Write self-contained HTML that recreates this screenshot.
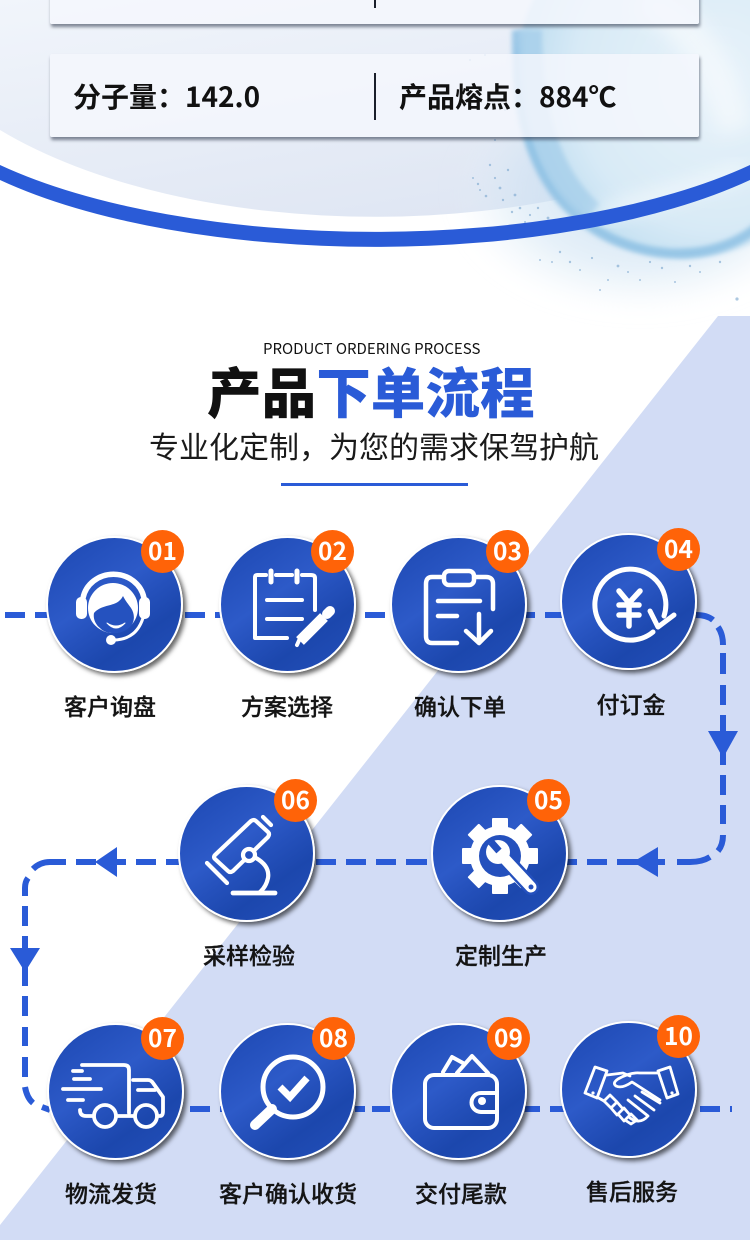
<!DOCTYPE html>
<html lang="zh"><head><meta charset="utf-8"><title>产品下单流程</title>
<style>
html,body{margin:0;padding:0;background:#fff}
#p{position:relative;width:750px;height:1240px;overflow:hidden;background:#fff;font-family:"Noto Sans CJK SC","Liberation Sans",sans-serif;color:#111}
svg{position:absolute;left:0;top:0}
.card{position:absolute;left:50px;width:649px;background:rgba(244,247,253,.84);box-shadow:1px 3px 3px rgba(50,60,80,.6);border-radius:2px}
.t{position:absolute;white-space:nowrap;line-height:1}
.c{position:absolute;width:133px;height:133px;border:2px solid #fff;border-radius:50%;box-shadow:3px 3px 5px rgba(0,0,0,.6);
background:linear-gradient(145deg,#1d48b0 0%,#2450bc 20%,#2d5ac8 42%,#2551bc 55%,#1c47ad 72%,#2350bb 100%)}
.b{position:absolute;width:43px;height:43px;border-radius:50%;background:#ff6308;color:#fff;font-size:24.5px;font-weight:700;line-height:42px;text-align:center}
.l{position:absolute;white-space:nowrap;font-size:23px;font-weight:500;line-height:1;transform:translateX(-50%);color:#141414;-webkit-text-stroke:.3px #141414}
</style></head><body><div id="p">

<svg width="750" height="1240" viewBox="0 0 750 1240">
<defs>
<linearGradient id="pale" x1="0" y1="0" x2="0.6" y2="1"><stop offset="0" stop-color="#f1f5fb"/><stop offset="1" stop-color="#dfe6f3"/></linearGradient>
<radialGradient id="wf" cx="0.6" cy="0.5" r="0.6"><stop offset="0" stop-color="#e8f3fa"/><stop offset=".7" stop-color="#d8eaf6"/><stop offset="1" stop-color="#bcdcf0"/></radialGradient>
<radialGradient id="mist" cx="0.5" cy="0.5" r="0.5"><stop offset="0" stop-color="#bcd8ee" stop-opacity=".8"/><stop offset=".65" stop-color="#cfe3f3" stop-opacity=".5"/><stop offset="1" stop-color="#e6f1f9" stop-opacity="0"/></radialGradient>
<filter id="bl" x="-30%" y="-30%" width="160%" height="160%"><feGaussianBlur stdDeviation="9"/></filter>
<filter id="bs" x="-30%" y="-30%" width="160%" height="160%"><feGaussianBlur stdDeviation="2.5"/></filter>
</defs>
<path d="M0,0L0,130A480 231 0 0 0 750,130L750,0Z" fill="url(#pale)"/>
<!-- water -->
<ellipse cx="640" cy="190" rx="190" ry="125" fill="url(#mist)" filter="url(#bl)"/>
<ellipse cx="685" cy="80" rx="170" ry="178" fill="url(#wf)" filter="url(#bs)"/>
<path d="M517,30C515,110 530,175 574,213C610,247 660,258 700,252C725,248 745,238 760,225" fill="none" stroke="#86bce2" stroke-width="10" stroke-opacity=".75" filter="url(#bs)"/>
<path d="M530,30C530,110 548,175 592,213" fill="none" stroke="#a4cde9" stroke-width="24" stroke-opacity=".75" filter="url(#bs)"/>
<path d="M640,0C700,20 725,90 735,130" fill="none" stroke="#f4f9fd" stroke-width="34" stroke-opacity=".8" filter="url(#bl)"/>
<path d="M745,0V170" stroke="#a9d2ee" stroke-width="14" stroke-opacity=".8" filter="url(#bs)"/>
<path d="M600,215C640,200 690,190 745,170" fill="none" stroke="#f6fbfe" stroke-width="16" stroke-opacity=".7" filter="url(#bl)"/>
<g fill="#7fa9d0" fill-opacity=".65">
<circle cx="473" cy="178" r="1"/><circle cx="480" cy="190" r="1"/><circle cx="490" cy="165" r="1.2"/><circle cx="503" cy="200" r="1.2"/><circle cx="512" cy="212" r="1.2"/><circle cx="525" cy="222" r="1"/><circle cx="540" cy="260" r="1"/><circle cx="560" cy="252" r="1.2"/><circle cx="580" cy="270" r="1"/><circle cx="618" cy="266" r="1.4"/><circle cx="640" cy="280" r="1"/><circle cx="662" cy="268" r="1.2"/><circle cx="700" cy="272" r="1"/><circle cx="720" cy="262" r="1.2"/><circle cx="737" cy="299" r="1.6"/><circle cx="600" cy="290" r="1"/><circle cx="495" cy="140" r="1"/><circle cx="485" cy="55" r="1"/><circle cx="470" cy="60" r="1"/><circle cx="505" cy="110" r="1"/>
<circle cx="478" cy="184" r="1.2"/><circle cx="486" cy="196" r="1.3"/><circle cx="495" cy="178" r="1.1"/><circle cx="500" cy="188" r="1.4"/><circle cx="508" cy="170" r="1.2"/><circle cx="515" cy="195" r="1.4"/><circle cx="520" cy="208" r="1.3"/><circle cx="530" cy="215" r="1.1"/><circle cx="538" cy="208" r="1.2"/><circle cx="548" cy="218" r="1.4"/><circle cx="552" cy="262" r="1"/><circle cx="570" cy="262" r="1.2"/><circle cx="592" cy="258" r="1.1"/><circle cx="608" cy="280" r="1"/><circle cx="628" cy="272" r="1"/><circle cx="650" cy="262" r="1.1"/><circle cx="675" cy="282" r="1"/><circle cx="690" cy="266" r="1.2"/>
</g>
<path d="M0,180A480 178 0 0 0 750,180L750,165A480 178 0 0 1 0,165Z" fill="#2a5bd7"/>
<polygon points="718,316 750,316 750,1240 0,1240 0,1225" fill="#d2dcf5"/>
</svg>

<div class="card" style="top:-40px;height:64px"></div>
<div class="card" style="top:54px;height:83px"></div>
<div style="position:absolute;left:374px;top:0;width:2px;height:8px;background:#1a1f2b"></div>
<div style="position:absolute;left:374px;top:73px;width:2px;height:47px;background:#1a1f2b"></div>
<div class="t" style="left:73px;top:82px;font-size:28px;font-weight:700">分子量：142.0</div>
<div class="t" style="left:399px;top:82px;font-size:28px;font-weight:700">产品熔点：884℃</div>

<div class="t" style="left:263px;top:341px;font-size:15px;font-weight:400;color:#111">PRODUCT ORDERING PROCESS</div>
<div class="t" style="left:207px;top:363px;font-size:54.6px;font-weight:900;color:#111">产品<span style="color:#2a5bd7">下单流程</span></div>
<div class="t" style="left:149px;top:430px;font-size:30px;font-weight:400;color:#1a1a1a">专业化定制，为您的需求保驾护航</div>
<div style="position:absolute;left:281px;top:483px;width:187px;height:3px;background:#2a5bd7"></div>

<!-- connectors -->
<svg width="750" height="1240" viewBox="0 0 750 1240" fill="none" stroke="#2a5bd7" stroke-width="6">
<path d="M5,615H25M35,615H55M185,615H205M215,615H235M365,615H385M515,615H535M545,615H565"/>
<path d="M696,615Q707,615 713,620M718,627Q723,634 723,645M723,653V674M723,685V705M723,715V765M723,775V795M723,805V824M723,835Q723,845 718,851M710,857Q702,862 690,862H677M665,862H650M617,862H640M587,862H607M566,862H577M376,862H396M406,862H427M316,862H336M346,862H366"/>
<path d="M136,862H156M166,862H180M117,862H126M76,862H96M33,869Q40,862 50,862H66M28,878Q25,882 25,888V896M25,906V926M25,936V986M25,996V1016M25,1027V1046M25,1057V1077M25,1087Q27,1098 33,1103M42,1107L50,1110"/>
<path d="M190,1109H210M220,1109H240M355,1109H365M372,1109H390M525,1109H540M550,1109H570M700,1109H720"/>
<path d="M730,1109H732" stroke-width="6"/>
<polygon points="708,731 738,731 723,758" fill="#2a5bd7" stroke="none"/>
<polygon points="633,862 658,847 658,877" fill="#2a5bd7" stroke="none"/>
<polygon points="95,862 117,847 117,877" fill="#2a5bd7" stroke="none"/>
<polygon points="10,948 40,948 25,972" fill="#2a5bd7" stroke="none"/>
</svg>

<div class="c" style="left:46px;top:536px"></div>
<div class="c" style="left:219px;top:536px"></div>
<div class="c" style="left:390px;top:536px"></div>
<div class="c" style="left:560px;top:533px"></div>
<div class="c" style="left:431px;top:785px"></div>
<div class="c" style="left:178px;top:785px"></div>
<div class="c" style="left:47px;top:1023px"></div>
<div class="c" style="left:219px;top:1023px"></div>
<div class="c" style="left:390px;top:1023px"></div>
<div class="c" style="left:560px;top:1021px"></div>

<!-- icons -->
<svg width="750" height="1240" viewBox="0 0 750 1240" fill="none" stroke="#fff" stroke-linecap="round" stroke-linejoin="round">
<!-- 1 headset -->
<g>
<path d="M83,598A31 29 0 0 1 144,598" stroke-width="5.5"/>
<circle cx="113" cy="608" r="25" fill="#fff" stroke="none"/>
<rect x="76" y="597" width="11" height="22" rx="5" fill="#fff" stroke="none"/>
<rect x="139" y="597" width="11" height="22" rx="5" fill="#fff" stroke="none"/>
<path d="M94,613C100,606 110,606 116,603C120,601 122,598 123,596C125,600 128,604 131,608C135,614 135,622 130,627C122,635 106,635 100,628C95,624 93,618 94,613Z" fill="#2552bf" stroke="none"/>
<path d="M107,623Q116,629 125,623Q116,633 107,623Z" fill="#fff" stroke="#fff" stroke-width="1"/>
<path d="M143,618Q136,640 113,640" stroke-width="3"/>
<circle cx="111" cy="640" r="5" fill="#fff" stroke="none"/>
</g>
<!-- 2 notepad -->
<g stroke-width="4">
<path d="M315,610V578Q315,575 311,575H302M292,575H276M266,575H257Q255,575 255,578V638H287"/>
<path d="M271,571V582M297,571V582" stroke-width="5"/>
<path d="M267,600H302M267,619H302"/>
<path d="M300,641L324,617" stroke-width="11" stroke-linecap="butt"/>
<path d="M327,614L330,611" stroke-width="10"/>
<path d="M297,645L301,636" stroke-width="4"/>
</g>
<!-- 3 clipboard -->
<g stroke-width="4.5">
<path d="M441,577H432Q426,577 426,584V636Q426,643 432,643H457M476,577H486Q493,577 493,584V609"/>
<rect x="444" y="571" width="30" height="14" rx="5"/>
<path d="M438,601H480M438,616H457"/>
<path d="M479,614V643M466,631L479,643L491,631"/>
</g>
<!-- 4 yen -->
<g stroke-width="5">
<path d="M653,632A35.5 35.5 0 1 1 664,616"/>
<path d="M650,611L658,627L674,615"/>
<path d="M619,591L629,603L640,591M629,603V626M619,605H639M619,615H639" stroke-width="5.5"/>
</g>
<!-- 5 gear -->
<g>
<g fill="#fff" stroke="none">
<circle cx="500" cy="856" r="30"/>
<rect x="492" y="818" width="16" height="76" rx="1"/>
<rect x="492" y="818" width="16" height="76" rx="1" transform="rotate(45 500 856)"/>
<rect x="492" y="818" width="16" height="76" rx="1" transform="rotate(90 500 856)"/>
<rect x="492" y="818" width="16" height="76" rx="1" transform="rotate(135 500 856)"/>
</g>
<circle cx="500" cy="856" r="21" fill="#2450bd" stroke="none"/>
<path d="M510,864L531,887" stroke="#2450bd" stroke-width="16"/>
<path d="M504,858L531,887" stroke-width="11"/>
<circle cx="498" cy="852" r="12" fill="#fff" stroke="none"/>
<path d="M499,851L491,842" stroke="#2450bd" stroke-width="7" stroke-linecap="butt"/>
<circle cx="531" cy="887" r="2.5" fill="#2450bd" stroke="none"/>
</g>
<!-- 6 microscope -->
<g stroke-width="4.2">
<path d="M215,855L251,821Q254,819 256,821L268,832Q270,834 268,837L233,871Q230,873 228,871L215,859Q213,857 215,855Z"/>
<path d="M263,817L271,825M207,863L227,883"/>
<circle cx="249" cy="855" r="6" fill="#2450bd"/>
<path d="M256,858Q270,866 268,878Q266,887 260,892"/>
<path d="M233,893H275" stroke-width="4.8"/>
</g>
<!-- 7 truck -->
<g stroke-width="3.8">
<path d="M82,1065H124Q129,1065 129,1070V1113M80,1110Q80,1116 86,1116H93"/>
<path d="M117,1116H134M133,1080H148Q151,1080 153,1083L163,1097V1111Q163,1116 160,1116H158"/>
<path d="M138,1090H155"/>
<circle cx="105" cy="1116" r="11"/>
<circle cx="146" cy="1116" r="11"/>
<path d="M73,1071H82M74,1079H90M63,1089H101M68,1100H83"/>
</g>
<!-- 8 magnifier -->
<g>
<circle cx="293" cy="1087" r="30" stroke-width="5"/>
<path d="M255,1125L272,1109" stroke-width="10"/>
<path d="M280,1087L290,1097L307,1078" stroke-width="7" stroke-linecap="butt" stroke-linejoin="miter"/>
</g>
<!-- 9 wallet -->
<g stroke-width="4">
<rect x="425" y="1075" width="72" height="53" rx="9"/>
<path d="M497,1093H481A9.5 9.5 0 0 0 481,1112H497"/>
<circle cx="482" cy="1101" r="4" fill="#fff" stroke="none"/>
<path d="M443,1072L452,1057L463,1063M457,1073L472,1056L488,1073"/>
</g>
<!-- 10 handshake -->
<g stroke-width="2.8">
<path d="M595,1067L607,1071L597,1098L585,1093Z"/>
<path d="M670,1067L658,1071L667,1098L678,1094Z"/>
<path d="M607,1075L623,1073L630,1076M658,1073H640Q630,1072 618,1079Q612,1083 616,1086Q622,1089 632,1082L660,1100M604,1101L597,1097"/>
<path d="M604,1101L610,1095L617,1102L611,1108ZM611,1108L617,1102L623,1109L617,1115ZM618,1114L624,1108L630,1115L624,1121ZM625,1120L631,1114L637,1120L631,1124Z"/>
<path d="M628,1100L648,1116M635,1096L654,1110M642,1092L660,1103M630,1118Q640,1125 648,1116"/>
</g>
<g fill="#fff" stroke="none"><circle cx="593" cy="1093" r="1.6"/><circle cx="672" cy="1093" r="1.6"/></g>
</svg>

<div class="b" style="left:141px;top:530px">01</div>
<div class="b" style="left:311px;top:530px">02</div>
<div class="b" style="left:486px;top:530px">03</div>
<div class="b" style="left:657px;top:528px">04</div>
<div class="b" style="left:527px;top:779px">05</div>
<div class="b" style="left:274px;top:779px">06</div>
<div class="b" style="left:141px;top:1017px">07</div>
<div class="b" style="left:312px;top:1017px">08</div>
<div class="b" style="left:487px;top:1017px">09</div>
<div class="b" style="left:657px;top:1015px">10</div>

<div class="l" style="left:110px;top:694px">客户询盘</div>
<div class="l" style="left:287px;top:694px">方案选择</div>
<div class="l" style="left:460px;top:694px">确认下单</div>
<div class="l" style="left:631px;top:692px">付订金</div>
<div class="l" style="left:501px;top:943px">定制生产</div>
<div class="l" style="left:249px;top:943px">采样检验</div>
<div class="l" style="left:111px;top:1181px">物流发货</div>
<div class="l" style="left:288px;top:1181px">客户确认收货</div>
<div class="l" style="left:461px;top:1181px">交付尾款</div>
<div class="l" style="left:632px;top:1179px">售后服务</div>
</div></body></html>
